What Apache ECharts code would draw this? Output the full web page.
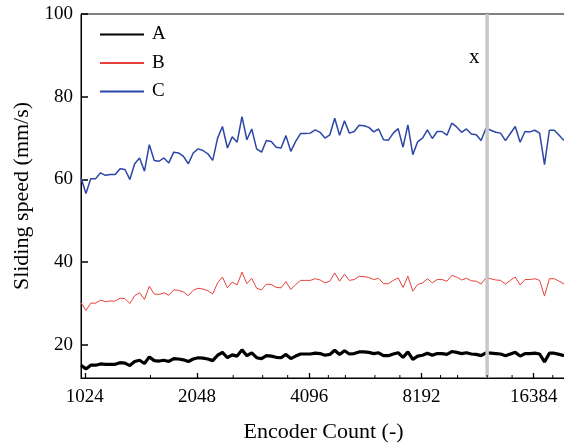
<!DOCTYPE html>
<html>
<head>
<meta charset="utf-8">
<script src="https://cdn.jsdelivr.net/npm/echarts@6/dist/echarts.min.js"></script>
<style>html,body{margin:0;padding:0;background:#fff;}#c{width:564px;height:445px;}</style>
</head>
<body>
<div id="c"></div>
<script>
// Encoder counts (x positions of samples)
const encoderCounts = [
  1000, 1031, 1062, 1095, 1128, 1163, 1198, 1235, 1273, 1312, 1352, 1393, 1436, 1480, 1525, 1572, 1620, 1669, 1720, 1773, 1827, 1883, 1941,
  2000, 2061, 2124, 2189, 2256, 2325, 2396, 2470, 2545, 2623, 2703, 2786, 2871, 2959, 3050, 3143, 3239, 3338, 3441, 3546, 3654, 3766, 3881,
  4000, 4122, 4249, 4378, 4512, 4651, 4793, 4939, 5091, 5246, 5407, 5572, 5743, 5918, 6100, 6286, 6479, 6677, 6881, 7092, 7309, 7532, 7763,
  8000, 8245, 8497, 8757, 9025, 9301, 9586, 9879, 10181, 10493, 10814, 11145, 11486, 11837, 12199, 12572, 12957, 13353, 13762, 14183, 14617, 15064, 15525,
  16000, 16490, 16994, 17514, 18050, 18602, 19171, 19758
];
const seriesA = [
  15.1, 14.2, 15.1, 15.1, 15.4, 15.3, 15.3, 15.3, 15.7, 15.6,
  15.0, 16.0, 16.3, 15.5, 17.1, 16.2, 16.1, 16.3, 16.0, 16.7,
  16.6, 16.4, 16.0, 16.6, 16.9, 16.8, 16.6, 16.2, 17.5, 18.2,
  16.9, 17.6, 17.3, 18.8, 17.4, 18.1, 16.9, 16.7, 17.4, 17.3,
  17.0, 16.9, 17.7, 16.7, 17.3, 17.8, 17.8, 17.8, 18.0, 17.9,
  17.5, 17.7, 18.7, 17.7, 18.6, 17.8, 17.9, 18.3, 18.3, 18.2,
  17.9, 18.1, 17.4, 17.4, 17.8, 18.1, 17.0, 18.3, 16.5, 17.3,
  17.5, 18.0, 17.5, 17.9, 17.9, 17.7, 18.4, 18.2, 17.9, 18.1,
  17.8, 17.7, 17.4, 18.1, 18.0, 17.9, 17.8, 17.4, 17.8, 18.2,
  17.3, 17.9, 17.9, 18.0, 17.8, 15.9, 18.0, 18.0, 17.7, 17.4
];
const seriesB = [
  30.2, 28.3, 30.1, 30.1, 30.8, 30.5, 30.6, 30.6, 31.3, 31.2,
  30.0, 31.9, 32.6, 31.0, 34.2, 32.3, 32.2, 32.6, 32.0, 33.3,
  33.2, 32.8, 31.9, 33.2, 33.7, 33.5, 33.1, 32.3, 35.0, 36.4,
  33.8, 35.2, 34.5, 37.6, 34.8, 36.1, 33.7, 33.3, 34.7, 34.6,
  33.9, 33.8, 35.3, 33.4, 34.6, 35.6, 35.6, 35.6, 36.0, 35.7,
  35.0, 35.4, 37.4, 35.4, 37.1, 35.6, 35.8, 36.6, 36.5, 36.3,
  35.8, 36.1, 34.8, 34.8, 35.6, 36.2, 33.9, 36.6, 33.0, 34.6,
  35.0, 36.0, 35.0, 35.8, 35.8, 35.4, 36.8, 36.4, 35.7, 36.1,
  35.5, 35.4, 34.7, 36.2, 36.0, 35.7, 35.6, 34.7, 35.6, 36.4,
  34.5, 35.8, 35.8, 36.0, 35.6, 31.8, 36.0, 36.0, 35.4, 34.7
];
const seriesC = [
  60.4, 56.6, 60.2, 60.2, 61.6, 61.0, 61.2, 61.2, 62.6, 62.4,
  60.0, 63.8, 65.2, 62.0, 68.4, 64.6, 64.4, 65.2, 64.0, 66.6,
  66.4, 65.6, 63.8, 66.4, 67.4, 67.0, 66.2, 64.6, 70.0, 72.8,
  67.6, 70.3, 69.0, 75.2, 69.6, 72.2, 67.4, 66.6, 69.4, 69.2,
  67.8, 67.6, 70.6, 66.8, 69.2, 71.1, 71.1, 71.2, 72.0, 71.4,
  70.0, 70.8, 74.8, 70.7, 74.2, 71.2, 71.6, 73.1, 73.0, 72.6,
  71.5, 72.2, 69.6, 69.5, 71.2, 72.3, 67.8, 73.2, 66.0, 69.1,
  70.0, 72.0, 69.9, 71.6, 71.6, 70.7, 73.6, 72.7, 71.4, 72.2,
  71.0, 70.8, 69.4, 72.4, 71.9, 71.4, 71.2, 69.4, 71.1, 72.8,
  69.0, 71.6, 71.5, 71.9, 71.2, 63.6, 71.9, 71.9, 70.7, 69.4
];
const seriesNames = ['A', 'B', 'C'];
const xMinorTicks = [1536, 2560, 3072, 3584, 4608, 5120, 6144, 7168, 9216, 10240, 12288, 14336, 18432];
const markerX = [12288];
const markerLabel = 'x';

const chart = echarts.init(document.getElementById('c'), null, {renderer: 'canvas'});
const FONT = 'Liberation Serif';
const Y_MIN = 12, Y_MAX = 100;
const pairs = arr => encoderCounts.map((x, i) => [x, arr[i]]);

chart.setOption({
  animation: false,
  backgroundColor: '#fff',
  grid: {left: 81, top: 14, right: -2, bottom: 67, show: true, borderColor: '#000', borderWidth: 1,
    containLabel: false, outerBoundsMode: 'none'},
  legend: {
    data: seriesNames, orient: 'vertical', left: 99, top: 25, padding: 0,
    itemWidth: 44, itemHeight: 14, itemGap: 9.5,
    itemStyle: {opacity: 0},
    textStyle: {fontFamily: FONT, fontSize: 19, color: '#000', padding: [0, 0, 0, 3]}
  },
  xAxis: {
    type: 'log', logBase: 2, min: 1000, max: 20000,
    name: 'Encoder Count (-)', nameLocation: 'middle', nameGap: 43,
    nameTextStyle: {fontFamily: FONT, fontSize: 22, color: '#000'},
    axisLine: {lineStyle: {color: '#000', width: 1}},
    axisTick: {inside: true, length: 5, lineStyle: {color: '#000', width: 1.3}},
    axisLabel: {fontFamily: FONT, fontSize: 19, color: '#000', margin: 10,
      showMinLabel: false, showMaxLabel: false,
      formatter: v => String(Math.round(v))},
    splitLine: {show: false}, minorTick: {show: false}
  },
  yAxis: {
    type: 'value', min: Y_MIN, max: Y_MAX,
    name: 'Sliding speed (mm/s)', nameLocation: 'middle', nameGap: 46,
    nameTextStyle: {fontFamily: FONT, fontSize: 22, color: '#000'},
    axisLine: {show: true, lineStyle: {color: '#000', width: 1}},
    axisTick: {show: true, inside: true, length: 7, lineStyle: {color: '#000', width: 1.5}},
    axisLabel: {fontFamily: FONT, fontSize: 19, color: '#000', margin: 8, showMinLabel: false,
      formatter: v => (v % 20 === 0 ? String(v) : '')},
    splitLine: {show: false}
  },
  series: [
    {name: 'A', type: 'line', data: pairs(seriesA), showSymbol: false, symbol: 'none',
      lineStyle: {color: '#000', width: 3.2}, itemStyle: {color: '#000'}, z: 3},
    {name: 'B', type: 'line', data: pairs(seriesB), showSymbol: false, symbol: 'none',
      lineStyle: {color: '#e8403a', width: 1}, itemStyle: {color: '#e8403a'}, z: 3},
    {name: 'C', type: 'line', data: pairs(seriesC), showSymbol: false, symbol: 'none',
      lineStyle: {color: '#2b46a6', width: 1.5}, itemStyle: {color: '#2b46a6'}, z: 3},
    {
      name: 'minorTicks', type: 'custom', data: xMinorTicks.map(v => [v, Y_MIN]), z: 6, silent: true,
      renderItem: (params, api) => {
        const p = api.coord([api.value(0), Y_MIN]);
        return {type: 'line', shape: {x1: p[0], y1: p[1], x2: p[0], y2: p[1] - 3},
          style: {stroke: '#000', lineWidth: 1}};
      }
    },
    {
      name: 'marker', type: 'custom', data: markerX.map(v => [v, Y_MAX]), z: 5, silent: true,
      renderItem: (params, api) => {
        const b = api.coord([api.value(0), Y_MIN]);
        const t = api.coord([api.value(0), Y_MAX]);
        const lp = api.coord([api.value(0), 89.4]);
        return {type: 'group', children: [
          {type: 'line', shape: {x1: b[0], y1: b[1], x2: t[0], y2: t[1]},
            style: {stroke: '#c8c8c8', lineWidth: 3.5}},
          {type: 'text', x: lp[0] - 13, y: lp[1],
            style: {text: markerLabel, fontFamily: FONT, fontSize: 21, fill: '#000',
              align: 'center', verticalAlign: 'middle'}}
        ]};
      }
    }
  ]
});
</script>
</body>
</html>
